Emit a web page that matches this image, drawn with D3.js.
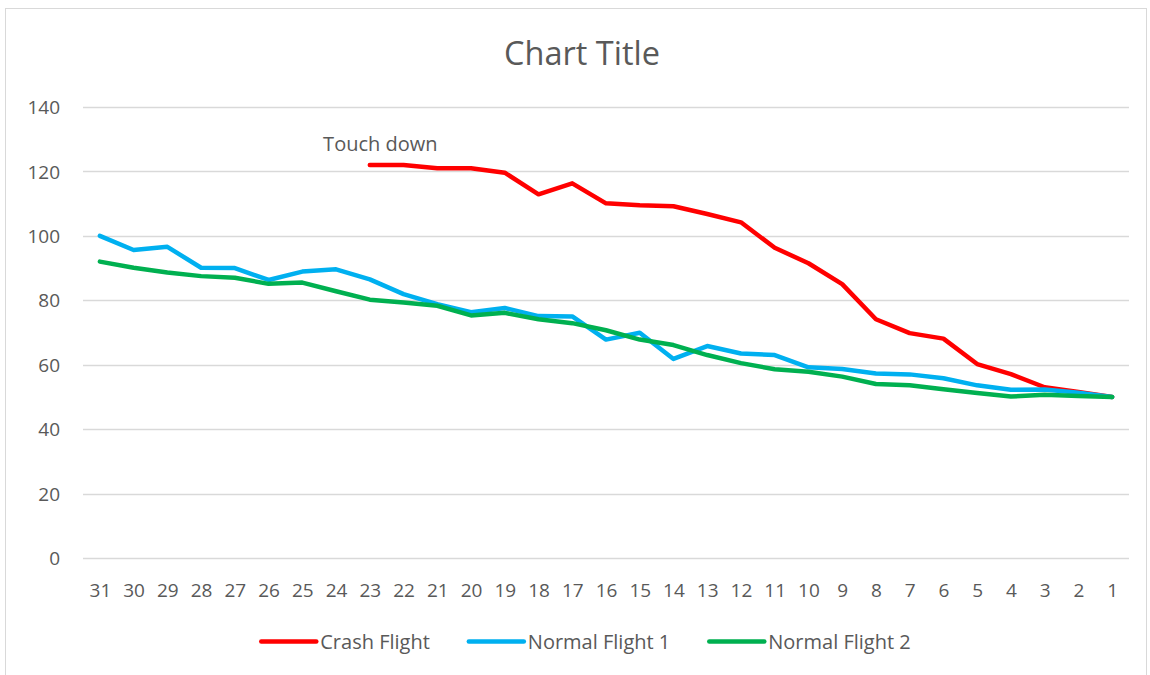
<!DOCTYPE html>
<html>
<head>
<meta charset="utf-8">
<script src="https://cdn.jsdelivr.net/npm/d3@7"></script>
<style>
  html, body { margin: 0; padding: 0; background: #fff; }
  svg { display: block; }
  text { font-family: "Open Sans", "Liberation Sans", sans-serif; fill: #595959; }
</style>
</head>
<body>
<svg id="chart" width="1150" height="675"></svg>
<script>
const categories = [31,30,29,28,27,26,25,24,23,22,21,20,19,18,17,16,15,14,13,12,11,10,9,8,7,6,5,4,3,2,1];
const crashFlight = [null,null,null,null,null,null,null,null,
  122,122,121,121,119.6,112.9,116.3,110.1,109.5,109.2,106.8,104.2,96.3,91.5,85,74.1,69.8,68.1,60.2,57.1,53,51.5,50];
const normalFlight1 = [100,95.6,96.6,90.1,90,86.3,88.9,89.6,86.5,81.9,78.8,76.3,77.6,75.1,75,67.8,69.9,61.8,65.8,63.5,63,59.2,58.7,57.3,57,55.8,53.6,52.2,52.3,51.3,50];
const normalFlight2 = [92,90.1,88.6,87.5,87,85.1,85.5,82.8,80.2,79.3,78.3,75.3,76.1,74.1,72.9,70.7,67.8,66.1,63,60.5,58.6,57.8,56.3,54,53.6,52.4,51.2,50.1,50.7,50.3,50];
const yTicks = [0,20,40,60,80,100,120,140];
const seriesNames = ["Crash Flight","Normal Flight 1","Normal Flight 2"];
const seriesColors = ["#FF0000","#00B0F0","#00B050"];
const annotation = {label: "Touch down", category: 23};
const titleText = "Chart Title";

const svg = d3.select("#chart");

// outer chart border
svg.append("rect")
  .attr("x", 5.5).attr("y", 8.5).attr("width", 1141).attr("height", 700)
  .attr("fill", "#fff").attr("stroke", "#D9D9D9").attr("stroke-width", 1);

const x = d3.scalePoint().domain(categories).range([83, 1129]).padding(0.5);
const y = d3.scaleLinear().domain([0, 140]).range([558, 107]);

// gridlines
svg.append("g").selectAll("line").data(yTicks).join("line")
  .attr("x1", 83).attr("x2", 1129)
  .attr("y1", d => Math.round(y(d)) + 0.5).attr("y2", d => Math.round(y(d)) + 0.5)
  .attr("stroke", "#D9D9D9").attr("stroke-width", 1.3);

// y axis
const yAxis = svg.append("g").attr("transform", "translate(60,0)")
  .call(d3.axisLeft(y).tickValues(yTicks).tickSize(0).tickPadding(0));
yAxis.select(".domain").remove();
yAxis.selectAll("text").attr("font-size", 19).attr("fill", "#595959")
  .attr("font-family", "'Open Sans', sans-serif").attr("dy", "0.35em");

// x axis
const xAxis = svg.append("g").attr("transform", "translate(0,558)")
  .call(d3.axisBottom(x).tickSize(0).tickPadding(0));
xAxis.select(".domain").remove();
xAxis.selectAll("text").attr("font-size", 19).attr("fill", "#595959")
  .attr("font-family", "'Open Sans', sans-serif").attr("y", 39).attr("dy", 0);

// lines
const seriesData = [crashFlight, normalFlight1, normalFlight2];
const line = d3.line()
  .defined(d => d.v != null)
  .x(d => x(d.c)).y(d => y(d.v));
seriesData.forEach((vals, i) => {
  const pts = categories.map((c, j) => ({c, v: vals[j]}));
  svg.append("path").datum(pts)
    .attr("d", line)
    .attr("fill", "none")
    .attr("stroke", seriesColors[i])
    .attr("stroke-width", 4.5)
    .attr("stroke-linejoin", "round")
    .attr("stroke-linecap", "round");
});

// annotation
const ai = categories.indexOf(annotation.category);
svg.append("text")
  .attr("x", x(annotation.category) + 10.5)
  .attr("y", y(crashFlight[ai]) - 13.5)
  .attr("text-anchor", "middle")
  .attr("font-size", 20)
  .text(annotation.label);

// title
svg.append("text")
  .attr("x", 582).attr("y", 64.5)
  .attr("text-anchor", "middle")
  .attr("font-size", 32.5)
  .text(titleText);

// legend
const legend = svg.append("g");
let cx = 0;
const gap = 39;
seriesNames.forEach((name, i) => {
  const g = legend.append("g");
  g.append("line").attr("x1", 0).attr("x2", 55).attr("y1", 0).attr("y2", 0)
    .attr("stroke", seriesColors[i]).attr("stroke-width", 4.5).attr("stroke-linecap", "round");
  const t = g.append("text").attr("x", 59).attr("y", 0).attr("dy", "0.35em")
    .attr("font-size", 20).text(name);
  const w = 59 + t.node().getComputedTextLength();
  g.attr("transform", `translate(${cx},641.5)`);
  cx += w + gap;
});
const totalW = cx - gap;
legend.attr("transform", `translate(${586 - totalW / 2},0)`);
</script>
</body>
</html>
